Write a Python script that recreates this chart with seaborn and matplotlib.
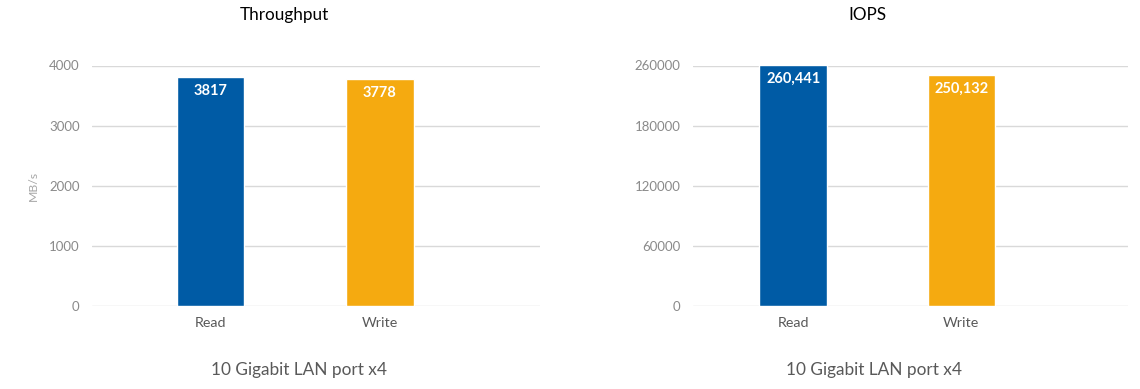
import matplotlib
matplotlib.use("Agg")
import matplotlib.pyplot as plt
import matplotlib.transforms as mtransforms
import seaborn as sns
import pandas as pd
import numpy as np

categories = ["Read", "Write"]
throughput = [3817, 3778]
iops = [260441, 250132]
throughput_labels = ["3817", "3778"]
iops_labels = ["260,441", "250,132"]
throughput_ticks = ["0", "1000", "2000", "3000", "4000"]
iops_ticks = ["0", "60000", "120000", "180000", "260000"]
colors = ["#005BA5", "#F5AA10"]

sns.set_theme(style="white")
plt.rcParams["font.family"] = ["Lato", "DejaVu Sans"]

fig = plt.figure(figsize=(11.4, 3.89), dpi=100)
W, H = 1140, 389

def panel(x0, x1, values, labels, ticks, ymax, xlim, title, title_x, sub_x, ylabel=None):
    ax = fig.add_axes([x0 / W, 1 - 306 / H, (x1 - x0) / W, (306 - 65.5) / H])
    df = pd.DataFrame({"cat": categories, "val": values})
    sns.barplot(data=df, x="cat", y="val", hue="cat", palette=colors,
                width=0.40, ax=ax, legend=False, saturation=1)
    ax.set_ylim(0, ymax)
    ax.set_xlim(*xlim)
    ax.set_yticks(np.linspace(0, ymax, len(ticks)))
    ax.set_yticklabels(ticks)
    ax.yaxis.grid(True, color="#D9D9D9", linewidth=1)
    ax.set_axisbelow(True)
    for s in ax.spines.values():
        s.set_visible(False)
    ax.tick_params(axis="y", length=0, pad=9, labelsize=9.5, labelcolor="#8A8A8A")
    ax.tick_params(axis="x", length=0, pad=8, labelsize=10.3, labelcolor="#595959")
    ax.set_xlabel("")
    ax.set_ylabel(ylabel if ylabel else "", fontsize=8.8, color="#A6A6A6", labelpad=7)
    off = mtransforms.ScaledTranslation(0, -7 / 100, fig.dpi_scale_trans)
    for i, p in enumerate(ax.patches[:len(values)]):
        ax.text(p.get_x() + p.get_width() / 2, p.get_height(), labels[i],
                ha="center", va="top", color="white", fontsize=10.5,
                fontweight="bold", transform=ax.transData + off)
    fig.text(title_x / W, 1 - 15 / H, title, ha="center", va="center",
             fontsize=12.3, color="black")
    fig.text(sub_x / W, 1 - 370 / H, "10 Gigabit LAN port x4",
             ha="center", va="center", fontsize=12.4, color="#595959")
    return ax

panel(92, 540, throughput, throughput_labels, throughput_ticks, 4000,
      (-0.70, 1.947), "Throughput", 284, 299, ylabel="MB/s")
panel(693, 1128, iops, iops_labels, iops_ticks, 260000,
      (-0.595, 1.99), "IOPS", 867, 874)

fig.savefig("out.png", dpi=100)
